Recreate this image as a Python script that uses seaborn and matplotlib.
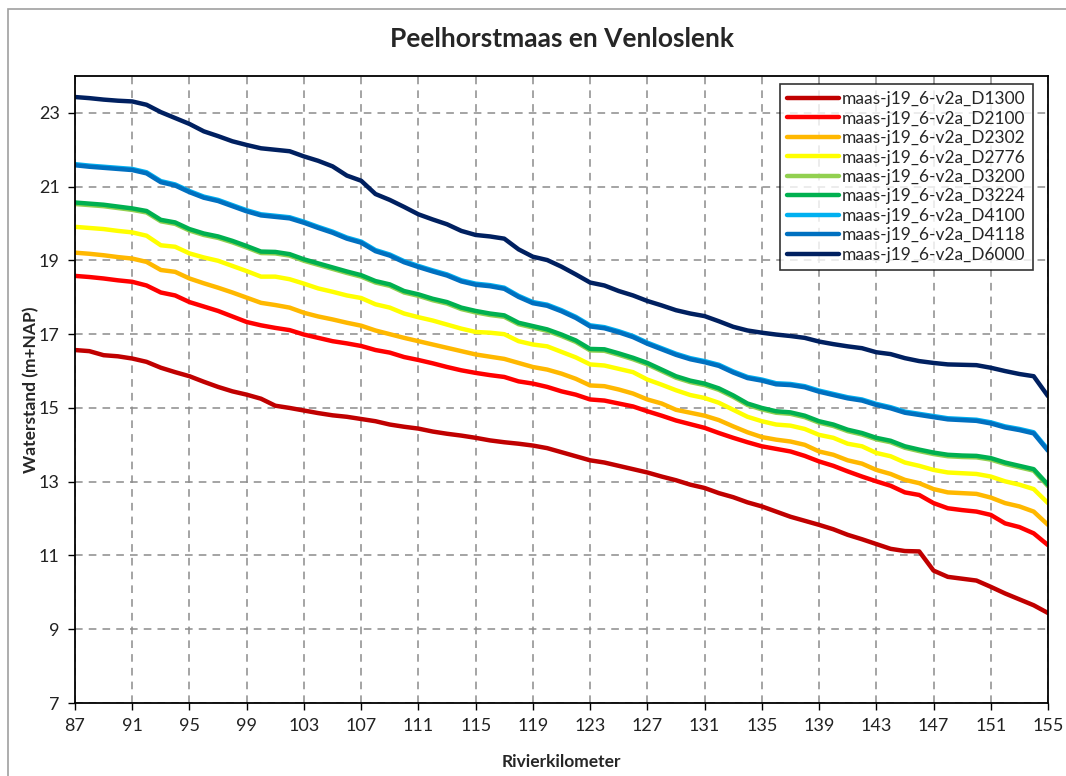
import numpy as np
import pandas as pd
import matplotlib
matplotlib.use("Agg")
import matplotlib.pyplot as plt
import seaborn as sns

km = list(range(87, 156))

D1300 = [16.57, 16.54, 16.43, 16.40, 16.34, 16.25, 16.09, 15.97, 15.86, 15.71,
         15.57, 15.45, 15.36, 15.25, 15.06, 15.00, 14.93, 14.86, 14.80, 14.76,
         14.70, 14.64, 14.55, 14.49, 14.44, 14.36, 14.30, 14.25, 14.19, 14.12,
         14.07, 14.03, 13.98, 13.91, 13.80, 13.69, 13.58, 13.52, 13.43, 13.34,
         13.25, 13.14, 13.04, 12.92, 12.83, 12.69, 12.58, 12.44, 12.33, 12.19,
         12.05, 11.94, 11.83, 11.71, 11.56, 11.44, 11.31, 11.18, 11.12, 11.11,
         10.59, 10.42, 10.37, 10.32, 10.15, 9.97, 9.81, 9.65, 9.44]
D2100 = [18.58, 18.55, 18.51, 18.46, 18.42, 18.32, 18.13, 18.05, 17.87, 17.75,
         17.63, 17.48, 17.33, 17.24, 17.17, 17.11, 16.99, 16.90, 16.81, 16.75,
         16.68, 16.57, 16.50, 16.38, 16.30, 16.21, 16.11, 16.02, 15.95, 15.89,
         15.84, 15.72, 15.66, 15.57, 15.45, 15.36, 15.23, 15.20, 15.12, 15.04,
         14.91, 14.79, 14.66, 14.56, 14.46, 14.32, 14.19, 14.07, 13.96, 13.89,
         13.82, 13.70, 13.55, 13.43, 13.28, 13.14, 13.01, 12.89, 12.71, 12.64,
         12.42, 12.28, 12.23, 12.19, 12.10, 11.87, 11.77, 11.60, 11.28]
D2302 = [19.21, 19.18, 19.14, 19.09, 19.05, 18.96, 18.74, 18.69, 18.51, 18.38,
         18.26, 18.13, 17.99, 17.85, 17.79, 17.72, 17.58, 17.48, 17.40, 17.31,
         17.23, 17.10, 17.00, 16.90, 16.81, 16.72, 16.63, 16.54, 16.45, 16.39,
         16.33, 16.22, 16.11, 16.04, 15.93, 15.79, 15.61, 15.59, 15.50, 15.39,
         15.23, 15.12, 14.95, 14.87, 14.79, 14.67, 14.50, 14.34, 14.21, 14.14,
         14.09, 14.00, 13.82, 13.73, 13.58, 13.49, 13.32, 13.21, 13.05, 12.96,
         12.80, 12.71, 12.69, 12.67, 12.57, 12.42, 12.33, 12.19, 11.83]
D2776 = [19.91, 19.88, 19.85, 19.80, 19.76, 19.67, 19.41, 19.37, 19.19, 19.08,
         18.99, 18.85, 18.71, 18.56, 18.56, 18.49, 18.37, 18.24, 18.15, 18.05,
         17.98, 17.81, 17.72, 17.56, 17.46, 17.37, 17.26, 17.15, 17.06, 17.04,
         17.00, 16.81, 16.72, 16.67, 16.52, 16.37, 16.18, 16.15, 16.06, 15.97,
         15.77, 15.63, 15.48, 15.35, 15.27, 15.14, 14.95, 14.76, 14.64, 14.55,
         14.52, 14.43, 14.27, 14.19, 14.03, 13.96, 13.78, 13.69, 13.52, 13.43,
         13.32, 13.25, 13.23, 13.21, 13.14, 13.01, 12.92, 12.80, 12.42]
D3200 = [20.53, 20.50, 20.47, 20.42, 20.37, 20.30, 20.06, 19.99, 19.81, 19.69,
         19.61, 19.49, 19.35, 19.20, 19.19, 19.13, 18.99, 18.88, 18.77, 18.66,
         18.56, 18.40, 18.31, 18.13, 18.04, 17.92, 17.83, 17.68, 17.59, 17.52,
         17.47, 17.27, 17.18, 17.09, 16.95, 16.79, 16.56, 16.55, 16.44, 16.32,
         16.18, 16.00, 15.82, 15.70, 15.62, 15.49, 15.30, 15.08, 14.96, 14.87,
         14.84, 14.75, 14.60, 14.51, 14.37, 14.28, 14.15, 14.07, 13.92, 13.83,
         13.75, 13.69, 13.67, 13.66, 13.60, 13.48, 13.39, 13.30, 12.88]
D3224 = [20.57, 20.54, 20.51, 20.46, 20.41, 20.34, 20.10, 20.03, 19.85, 19.73,
         19.65, 19.53, 19.39, 19.24, 19.23, 19.17, 19.03, 18.92, 18.81, 18.70,
         18.60, 18.44, 18.35, 18.17, 18.08, 17.96, 17.87, 17.72, 17.63, 17.56,
         17.51, 17.31, 17.22, 17.13, 16.99, 16.83, 16.60, 16.59, 16.48, 16.36,
         16.22, 16.04, 15.86, 15.74, 15.66, 15.53, 15.34, 15.12, 15.00, 14.91,
         14.88, 14.79, 14.64, 14.55, 14.41, 14.32, 14.19, 14.11, 13.96, 13.87,
         13.79, 13.73, 13.71, 13.70, 13.64, 13.52, 13.43, 13.34, 12.92]
D4100 = [21.61, 21.57, 21.54, 21.51, 21.48, 21.39, 21.15, 21.06, 20.88, 20.73,
         20.64, 20.50, 20.36, 20.25, 20.21, 20.17, 20.05, 19.91, 19.78, 19.62,
         19.51, 19.28, 19.16, 18.98, 18.85, 18.73, 18.62, 18.46, 18.37, 18.33,
         18.26, 18.04, 17.87, 17.80, 17.65, 17.47, 17.24, 17.19, 17.08, 16.95,
         16.77, 16.62, 16.47, 16.35, 16.27, 16.17, 15.99, 15.84, 15.77, 15.67,
         15.65, 15.59, 15.47, 15.38, 15.29, 15.23, 15.11, 15.02, 14.90, 14.84,
         14.78, 14.72, 14.70, 14.68, 14.61, 14.50, 14.43, 14.34, 13.87]
D4118 = [21.58, 21.54, 21.51, 21.48, 21.45, 21.36, 21.12, 21.03, 20.85, 20.70,
         20.61, 20.47, 20.33, 20.22, 20.18, 20.14, 20.02, 19.88, 19.75, 19.59,
         19.48, 19.25, 19.13, 18.95, 18.82, 18.70, 18.59, 18.43, 18.34, 18.30,
         18.23, 18.01, 17.84, 17.77, 17.62, 17.44, 17.21, 17.16, 17.05, 16.92,
         16.74, 16.59, 16.44, 16.32, 16.24, 16.14, 15.96, 15.81, 15.74, 15.64,
         15.62, 15.56, 15.44, 15.35, 15.26, 15.20, 15.08, 14.99, 14.87, 14.81,
         14.75, 14.69, 14.67, 14.65, 14.58, 14.47, 14.40, 14.31, 13.84]
D6000 = [23.43, 23.40, 23.36, 23.33, 23.31, 23.22, 23.02, 22.86, 22.70, 22.50,
         22.37, 22.23, 22.13, 22.04, 22.00, 21.96, 21.82, 21.70, 21.55, 21.30,
         21.16, 20.80, 20.64, 20.45, 20.25, 20.11, 19.98, 19.80, 19.69, 19.65,
         19.59, 19.30, 19.10, 19.01, 18.83, 18.62, 18.40, 18.32, 18.17, 18.05,
         17.90, 17.78, 17.65, 17.56, 17.49, 17.35, 17.20, 17.10, 17.04, 16.99,
         16.95, 16.90, 16.80, 16.73, 16.67, 16.62, 16.51, 16.46, 16.35, 16.27,
         16.22, 16.18, 16.17, 16.16, 16.09, 16.00, 15.92, 15.86, 15.32]

series_names = ["maas-j19_6-v2a_D1300", "maas-j19_6-v2a_D2100", "maas-j19_6-v2a_D2302",
                "maas-j19_6-v2a_D2776", "maas-j19_6-v2a_D3200", "maas-j19_6-v2a_D3224",
                "maas-j19_6-v2a_D4100", "maas-j19_6-v2a_D4118", "maas-j19_6-v2a_D6000"]
series_values = [D1300, D2100, D2302, D2776, D3200, D3224, D4100, D4118, D6000]
colors = ["#C00000", "#FF0000", "#FFB800", "#FFFF00", "#92D050", "#00B050",
          "#00B0F0", "#0070C0", "#002060"]
x_ticks = list(range(87, 156, 4))
y_ticks = [7, 9, 11, 13, 15, 17, 19, 21, 23]

title = "Peelhorstmaas en Venloslenk"
xlabel = "Rivierkilometer"
ylabel = "Waterstand (m+NAP)"

df = pd.concat([pd.DataFrame({"km": km, "waterstand": v, "serie": n})
                for n, v in zip(series_names, series_values)], ignore_index=True)

sns.set_theme(style="white")
plt.rcParams["font.family"] = ["Lato", "DejaVu Sans"]

fig = plt.figure(figsize=(10.66, 7.76), dpi=100)
ax = fig.add_axes([75 / 1066, 1 - 703 / 776, 973 / 1066, 627 / 776])

# outer chart-area border
fig.add_artist(plt.Rectangle((8 / 1066, -0.1), 1.2, 1 - 9 / 776 + 0.1,
                             transform=fig.transFigure, fill=False,
                             edgecolor="#A0A0A0", lw=1.2))

sns.lineplot(data=df, x="km", y="waterstand", hue="serie", hue_order=series_names,
             palette=colors, linewidth=3.2, ax=ax, legend=True)

ax.set_xlim(87, 155)
ax.set_ylim(7, 24)
ax.set_xticks(x_ticks)
ax.set_yticks(y_ticks)
ax.tick_params(axis="both", direction="out", length=5, width=1, color="black",
               labelsize=13, labelcolor="#222222", bottom=True, left=True, pad=6)
ax.grid(True, linestyle=(0, (5, 4)), color="#8C8C8C", linewidth=1.1)
for s in ax.spines.values():
    s.set_color("black")
    s.set_linewidth(1.3)

ax.set_title(title, fontsize=19, fontweight="bold", pad=21)
ax.set_xlabel(xlabel, fontsize=12.5, fontweight="bold", labelpad=14)
ax.set_ylabel(ylabel, fontsize=12.5, fontweight="bold", labelpad=0)

leg = ax.legend(loc="upper right", bbox_to_anchor=(0.9845, 0.987), frameon=True,
                fancybox=False, edgecolor="black", fontsize=12.5, handlelength=3.0,
                borderaxespad=0, labelspacing=0.2, handletextpad=0.2,
                borderpad=0.4)
leg.get_frame().set_linewidth(1.2)
for line in leg.get_lines():
    line.set_linewidth(3.2)

fig.savefig("out.png", dpi=100)
